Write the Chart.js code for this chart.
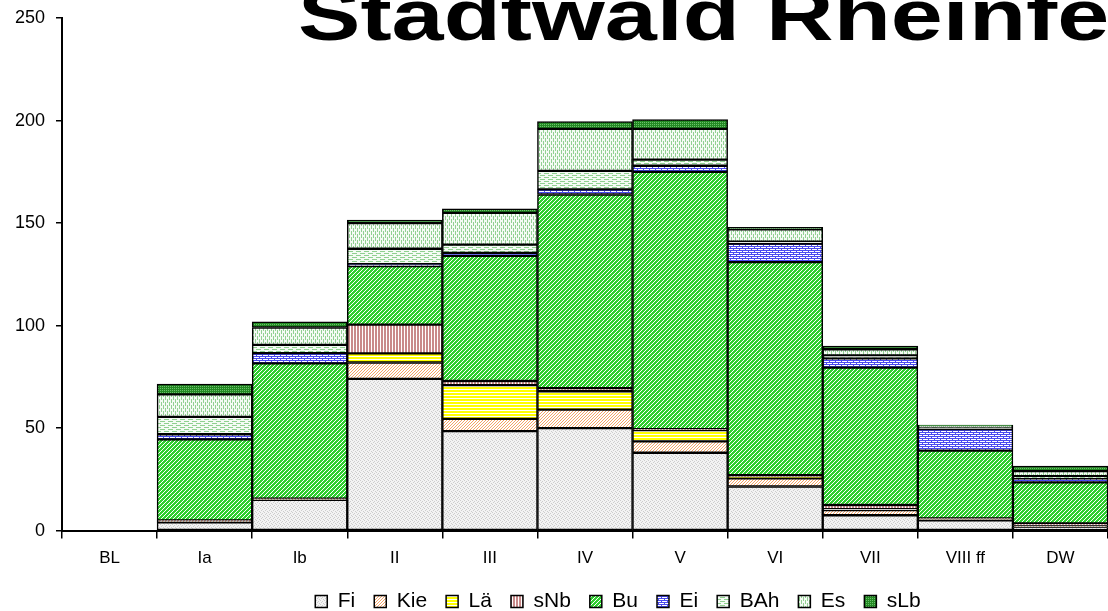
<!DOCTYPE html>
<html>
<head>
<meta charset="utf-8">
<script src="https://cdn.jsdelivr.net/npm/chart.js@4/dist/chart.umd.min.js"></script>
<style>
  html, body { margin: 0; padding: 0; background: #fff; }
  #wrap { width: 1108px; height: 611px; position: relative; }
</style>
</head>
<body>
<div id="wrap"><canvas id="chart"></canvas></div>
<script>
// Kategorien (Entwicklungsstufen)
const categories = ['BL', 'Ia', 'Ib', 'II', 'III', 'IV', 'V', 'VI', 'VII', 'VIII ff', 'DW'];
const yTicks = [0, 50, 100, 150, 200, 250];

// Werte je Baumart
const fi  = [0, 4,   15,  74,   48.5, 50,   38,    21.5, 7.5, 5,    1.5];
const kie = [0, 0.5, 0.3, 8,    6,    9,    5.5,   4,    2.5, 0.5,  1];
const lae = [0, 0,   0,   4.5,  16.5, 9,    5.5,   0.5,  0.5, 0,    0];
const snb = [0, 0.5, 0.3, 14,   2,    1.5,  0.5,   1,    2,   0.5,  1];
const bu  = [0, 39.5, 66, 28.5, 61,   94.5, 125.5, 104,  67,  33,   20];
const ei  = [0, 2.5, 5,   1,    1.5,  2.5,  3,     9,    4.5, 10.5, 2];
const bah = [0, 8.5, 4,   7.5,  4,    9,    3,     1,    1.5, 1,    1];
const es  = [0, 11,  8.5, 12.5, 15.5, 20.5, 15,    6,    3,   0.5,  2.5];
const slb = [0, 5,   2.7, 1.5,  2,    3.5,  4.5,   1,    1.5, 0.5,  2.5];

const seriesNames = ['Fi', 'Kie', 'Lä', 'sNb', 'Bu', 'Ei', 'BAh', 'Es', 'sLb'];
const seriesValues = [fi, kie, lae, snb, bu, ei, bah, es, slb];

// kleine Musterkacheln wie in Excel
function makePattern(w, h, bg, draw) {
    let c = document.createElement('canvas');
    c.width = w;
    c.height = h;
    let g = c.getContext('2d');
    g.fillStyle = bg;
    g.fillRect(0, 0, w, h);
    draw(g);
    return c.getContext('2d').createPattern(c, 'repeat');
}

function px(g, color, pts) {
    g.fillStyle = color;
    pts.forEach(p => g.fillRect(p[0], p[1], 1, 1));
}

let ctx = document.getElementById('chart').getContext('2d');

const patterns = [
    // Fi: hellgrau gepunktet
    makePattern(4, 4, '#f3f3f3', g => px(g, '#cdcdcd', [[0, 0], [2, 1], [1, 2], [3, 3]])),
    // Kie: orange schraffiert
    makePattern(6, 6, '#ffffff', g => {
        let p = [];
        for (let i = 0; i < 6; i++) { p.push([(5 - i + 6) % 6, i]); p.push([(8 - i) % 6, i]); }
        px(g, '#f4a467', p);
    }),
    // Lä: gelbe Querstreifen
    makePattern(4, 3, '#ffff00', g => { g.fillStyle = '#ffffff'; g.fillRect(0, 2, 4, 1); }),
    // sNb: rosa Längsstreifen
    makePattern(3, 4, '#c98a8a', g => { g.fillStyle = '#ffffff'; g.fillRect(2, 0, 1, 4); }),
    // Bu: grün diagonal
    makePattern(4, 4, '#2fcf2f', g => px(g, '#ffffff', [[3, 0], [2, 1], [1, 2], [0, 3]])),
    // Ei: blaues Gitter
    makePattern(6, 4, '#ffffff', g => {
        g.fillStyle = '#4a4af0';
        g.fillRect(0, 0, 6, 1);
        g.fillRect(0, 2, 6, 1);
        g.fillRect(1, 1, 1, 1);
        g.fillRect(4, 3, 1, 1);
    }),
    // BAh: hellgrüne Strichlinien quer
    makePattern(8, 4, '#f4fbf4', g => { g.fillStyle = '#8fd08f'; g.fillRect(0, 1, 5, 1); g.fillRect(4, 3, 4, 1); g.fillRect(0, 3, 1, 1); }),
    // Es: hellgrüne Strichlinien längs
    makePattern(4, 6, '#f4fbf4', g => { g.fillStyle = '#93d093'; g.fillRect(1, 0, 1, 4); g.fillRect(3, 3, 1, 3); g.fillRect(3, 0, 1, 1); }),
    // sLb: dunkelgrün getüpfelt
    makePattern(2, 2, '#238a23', g => px(g, '#6cbf6c', [[0, 0]]))
];

let datasets = seriesNames.map((name, i) => ({
    label: name,
    data: seriesValues[i],
    backgroundColor: patterns[i],
    borderColor: '#000000',
    borderWidth: 1.5,
    borderSkipped: false,
    barPercentage: 1.0,
    categoryPercentage: 1.0
}));

// Titel, breit gezogen und am Rand abgeschnitten
const titlePlugin = {
    id: 'bigTitle',
    afterDraw(chart) {
        let c = chart.ctx;
        c.save();
        c.fillStyle = '#000';
        c.font = 'bold 72px "Liberation Sans", Arial, sans-serif';
        c.textBaseline = 'alphabetic';
        c.translate(298, 40);
        c.scale(1.3, 1);
        c.fillText('Stadtwald Rheinfelden', 0, 0);
        c.restore();
    }
};

// Legende etwas nach rechts und nach oben schieben (wie im Original)
const legendShift = {
    id: 'legendShift',
    afterLayout(chart) {
        let l = chart.legend;
        l.left += 64;
        l.right += 64;
        l.top -= 7;
        l.bottom -= 7;
    }
};

Chart.defaults.font.family = '"Liberation Sans", Arial, sans-serif';
Chart.defaults.color = '#000';

new Chart(ctx, {
    type: 'bar',
    data: {
        labels: categories,
        datasets: datasets
    },
    options: {
        responsive: true,
        maintainAspectRatio: false,
        animation: false,
        layout: { padding: { top: 0, right: 0, left: 0, bottom: -18 } },
        plugins: {
            tooltip: { enabled: false },
            legend: {
                position: 'bottom',
                labels: {
                    font: { size: 21 },
                    boxWidth: 12,
                    boxHeight: 12,
                    padding: 19
                }
            }
        },
        scales: {
            x: {
                stacked: true,
                grid: {
                    offset: true,
                    drawOnChartArea: false,
                    drawTicks: true,
                    tickLength: 8,
                    color: '#000',
                    lineWidth: 1.5
                },
                border: { color: '#000', width: 2 },
                ticks: { font: { size: 17 }, padding: 10, maxRotation: 0 }
            },
            y: {
                stacked: true,
                min: 0,
                max: 250,
                afterFit(scale) { scale.width = 62; },
                afterBuildTicks(scale) { scale.ticks = yTicks.map(v => ({ value: v })); },
                grid: {
                    drawOnChartArea: false,
                    drawTicks: true,
                    tickLength: 6,
                    color: '#000',
                    lineWidth: 1.5
                },
                border: { color: '#000', width: 2 },
                ticks: { font: { size: 18, lineHeight: 0.8 }, padding: 11 }
            }
        }
    },
    plugins: [titlePlugin, legendShift]
});
</script>
</body>
</html>
